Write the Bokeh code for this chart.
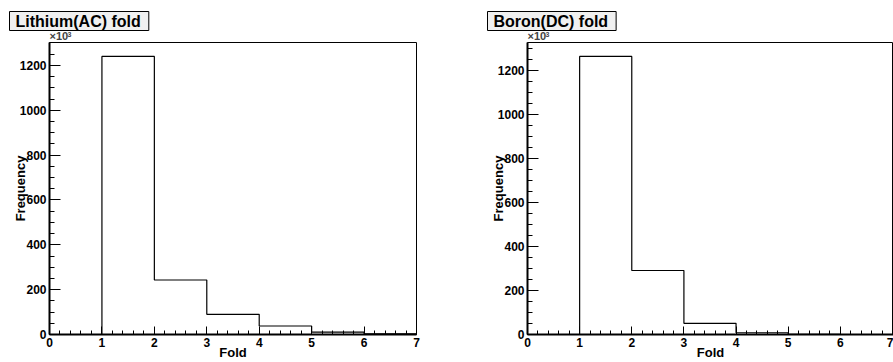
from bokeh.plotting import figure
from bokeh.layouts import row, column
from bokeh.models import Range1d, SingleIntervalTicker, Label
from bokeh.embed import file_html
from bokeh.resources import INLINE

# ---- data (counts in units of 10^3) ----
bin_edges = [0, 1, 2, 3, 4, 5, 6, 7]
lithium_counts = [0, 1240, 243, 90, 38, 11, 3]
boron_counts = [0, 1264, 291, 51, 8, 1, 0]
panel_titles = ["Lithium(AC) fold", "Boron(DC) fold"]
x_title = "Fold"
y_title = "Frequency"
exponent_text = "\u00d710"
exponent_power = "3"

FONT = "Liberation Sans"
W, H = 893, 362
STRIP_H = 41


def make_panel(counts, width, border_left, border_right, x_end):
    ymax = 1.05 * max(counts)
    p = figure(width=width, height=H - STRIP_H, output_backend="svg", toolbar_location=None,
               x_range=Range1d(bin_edges[0], x_end), y_range=Range1d(0, ymax),
               min_border_left=border_left, min_border_right=border_right,
               min_border_top=1, min_border_bottom=28)
    p.background_fill_color = "white"
    p.border_fill_color = "white"
    p.outline_line_color = "black"
    p.outline_line_width = 1
    p.xgrid.visible = False
    p.ygrid.visible = False

    p.step(x=bin_edges, y=list(counts) + [counts[-1]], mode="after",
           line_color="black", line_width=1.2)

    ax = p.xaxis[0]
    ax.ticker = SingleIntervalTicker(interval=1, num_minor_ticks=5)
    ax.major_tick_in, ax.major_tick_out = 8, 0
    ax.minor_tick_in, ax.minor_tick_out = 4, 0
    ax.major_label_standoff = 3
    ax.axis_label = x_title
    ax.axis_label_standoff = -5
    ay = p.yaxis[0]
    ay.ticker = SingleIntervalTicker(interval=200, num_minor_ticks=4)
    ay.major_tick_in, ay.major_tick_out = 11, 0
    ay.minor_tick_in, ay.minor_tick_out = 5, 0
    ay.major_label_standoff = 3
    ay.axis_label = y_title
    ay.axis_label_standoff = -11
    for a in (ax, ay):
        a.axis_line_width = 2
        a.axis_line_color = "black"
        a.major_tick_line_color = "black"
        a.minor_tick_line_color = "black"
        a.major_label_text_font = FONT
        a.major_label_text_font_style = "bold"
        a.major_label_text_font_size = "12px"
        a.major_label_text_color = "black"
        a.axis_label_text_font = FONT
        a.axis_label_text_font_style = "bold"
        a.axis_label_text_font_size = "13px"
        a.axis_label_text_color = "black"
    return p


# strip above the panels holding the pad titles and the x10^3 exponent (pixel-like coords)
strip = figure(width=W, height=STRIP_H, output_backend="svg", toolbar_location=None,
               x_range=Range1d(0, W), y_range=Range1d(STRIP_H, 0),
               x_axis_location=None, y_axis_location=None, min_border=0)
strip.outline_line_color = None
strip.xgrid.visible = False
strip.ygrid.visible = False
strip.background_fill_color = "white"
strip.border_fill_color = "white"

frame_lefts = [49, 446 + 81]
pad = dict(left=6, right=8, top=1, bottom=1)
for fl, title in zip(frame_lefts, panel_titles):
    strip.add_layout(Label(x=fl - 38, y=13, text=title,
                           text_font=FONT, text_font_style="bold", text_font_size="16px",
                           text_alpha=0, text_align="left", text_baseline="top",
                           padding=pad, background_fill_color="#3a3a3a"))
    strip.add_layout(Label(x=fl - 40, y=11, text=title,
                           text_font=FONT, text_font_style="bold", text_font_size="16px",
                           text_color="black", text_align="left", text_baseline="top",
                           padding=pad, background_fill_color="#f0f0f0",
                           border_line_color="black", border_line_width=1))
    strip.add_layout(Label(x=fl, y=STRIP_H, text=exponent_text,
                           text_font=FONT, text_font_style="bold", text_font_size="11px",
                           text_align="left", text_baseline="bottom"))
    strip.add_layout(Label(x=fl + 18, y=STRIP_H - 5, text=exponent_power,
                           text_font=FONT, text_font_style="bold", text_font_size="7px",
                           text_align="left", text_baseline="bottom"))

left = make_panel(lithium_counts, 446, 49, 30, bin_edges[-1])
right = make_panel(boron_counts, 447, 81, 0, bin_edges[-1] + 0.02)

layout = column(strip, row(left, right, spacing=0), spacing=0)
open("out.html", "w").write(file_html(layout, INLINE))
